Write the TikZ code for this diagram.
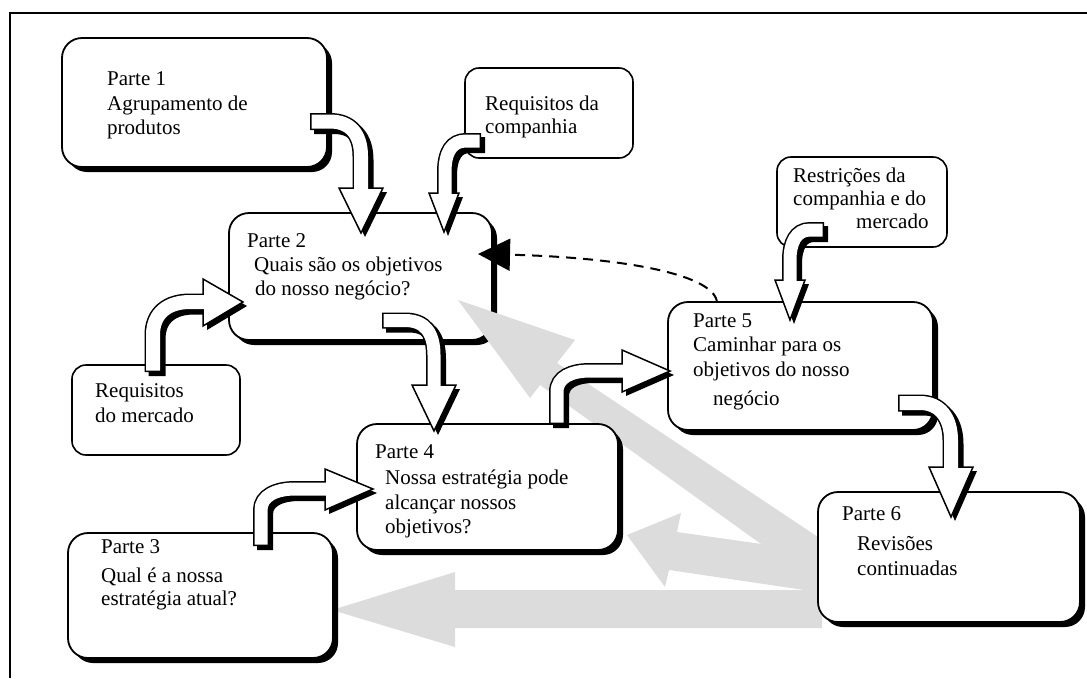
\documentclass[tikz,border=0pt]{standalone}
\usepackage{fontspec}
\setmainfont{Liberation Serif}
\usetikzlibrary{shadows,arrows.meta}
\definecolor{lgray}{RGB}{220,220,220}
\tikzset{
  partbox/.style={draw=black, line width=1.8pt, fill=white, rounded corners=20pt, inner sep=0pt,
    drop shadow={shadow xshift=5pt, shadow yshift=-5pt, opacity=1, fill=black}},
  smallbox/.style={draw=black, line width=1.6pt, fill=white, rounded corners=14pt, inner sep=0pt},
  txt/.style={anchor=base west, inner sep=0pt, font=\fontsize{21}{24}\selectfont},
  grayarrow/.style={fill=lgray, draw=none},
  dashlink/.style={line width=2pt, dash pattern=on 10pt off 7pt, -{Triangle[length=32pt,width=32pt]}},
}
\newcommand\blockarr[5]{%
  % #1 shaft path, #2 inner width, #3 head corner, #4 tip, #5 head corner
  \begin{scope}[shift={(4,4)}]
    \draw[black, line width=#2pt+3pt, shorten >=2pt] #1;
    \fill[black] #3 -- #4 -- #5 -- cycle;
  \end{scope}
  \draw[black, line width=#2pt+3pt, shorten >=2pt] #1;
  \filldraw[fill=white, draw=black, line width=1.5pt, line join=miter] #3 -- #4 -- #5 -- cycle;
  \draw[white, line width=#2pt, shorten <=1.5pt] #1;
}
\begin{document}
\begin{tikzpicture}[x=1pt, y=-1pt]
\useasboundingbox (0,0) rectangle (1087,678);
% frame
\draw[line width=2pt] (10,678) -- (10,13) -- (1087,13);

% boxes behind the grey arrows
\node[partbox, minimum width=265pt, minimum height=129pt] (p1) at (194.5,102.5) {};
\node[partbox, minimum width=263pt, minimum height=127pt] (p2) at (360.5,276.5) {};
\node[smallbox, minimum width=168pt, minimum height=90pt] (rc) at (549,113) {};
\node[smallbox, minimum width=170pt, minimum height=90pt] (rr) at (862,202) {};
\node[smallbox, minimum width=168pt, minimum height=90pt] (rm) at (156,410) {};

% grey feedback arrows
\fill[grayarrow] (458,300) -- (575,340) -- (557,363) -- (818,537) -- (818,585) -- (540,385) -- (530,398) -- cycle;
\fill[grayarrow] (627,535) -- (681,513) -- (677,532) -- (818,552) -- (818,592) -- (669,570) -- (665,587) -- cycle;
\fill[grayarrow] (332,610) -- (455,572) -- (455,590) -- (822,590) -- (822,628) -- (455,628) -- (455,647) -- cycle;

% boxes in front
\node[partbox, minimum width=265pt, minimum height=128pt] (p5) at (800.5,366) {};
\node[partbox, minimum width=261pt, minimum height=126pt] (p4) at (487.5,487) {};
\node[partbox, minimum width=265pt, minimum height=125pt] (p3) at (200.5,595.5) {};
\node[partbox, minimum width=262pt, minimum height=130pt] (p6) at (949,557) {};

% texts
\node[txt] (t1a) at (107,85) {Parte 1};
\node[txt] (t1b) at (107,110) {Agrupamento de};
\node[txt] (t1c) at (107,134) {produtos};
\node[txt] (t2a) at (247,247) {Parte 2};
\node[txt] (t2b) at (254,271) {Quais são os objetivos};
\node[txt] (t2c) at (255,295) {do nosso negócio?};
\node[txt] (tca) at (485,110) {Requisitos da};
\node[txt] (tcb) at (485,133) {companhia};
\node[txt] (tra) at (793,182) {Restrições da};
\node[txt] (trb) at (793,205) {companhia e do};
\node[txt] (trc) at (856,228) {mercado};
\node[txt] (tma) at (95,397) {Requisitos};
\node[txt] (tmb) at (95,422) {do mercado};
\node[txt] (t5a) at (693,327) {Parte 5};
\node[txt] (t5b) at (693,351) {Caminhar para os};
\node[txt] (t5c) at (693,376) {objetivos do nosso};
\node[txt] (t5d) at (713,405) {negócio};
\node[txt] (t4a) at (375,458) {Parte 4};
\node[txt] (t4b) at (385,484) {Nossa estratégia pode};
\node[txt] (t4c) at (385,509) {alcançar nossos};
\node[txt] (t4d) at (385,533) {objetivos?};
\node[txt] (t3a) at (101,553) {Parte 3};
\node[txt] (t3b) at (101,582) {Qual é a nossa};
\node[txt] (t3c) at (101,605) {estratégia atual?};
\node[txt] (t6a) at (842,520) {Parte 6};
\node[txt] (t6b) at (857,550) {Revisões};
\node[txt] (t6c) at (857,575) {continuadas};

% block arrows
% Parte 1 -> Parte 2
\blockarr{(310,121.5) -- (330,121.5) .. controls (350,121.5) and (361,134) .. (361,156) -- (361,190)}{14}{(339,188)}{(361,233)}{(383,188)}
% Requisitos da companhia -> Parte 2
\blockarr{(481,141) -- (466,141) .. controls (452,141) and (445,152) .. (445,172) -- (445,195)}{13}{(429,193)}{(444,232)}{(459,193)}
% Restricoes -> Parte 5
\blockarr{(824,230) -- (810,230) .. controls (796,230) and (790,243) .. (790,260) -- (790,282)}{13}{(775,280)}{(790,320)}{(805,280)}
% Requisitos do mercado -> Parte 2
\blockarr{(153,372) -- (153,335) .. controls (153,313) and (168,302) .. (190,302) -- (205,302)}{14}{(203,279)}{(243,302)}{(203,326)}
% Parte 2 -> Parte 4
\blockarr{(382,320.5) -- (405,320.5) .. controls (425,320.5) and (434,333) .. (434,355) -- (434,387)}{13}{(412,385)}{(434,431)}{(456,385)}
% Parte 4 -> Parte 5
\blockarr{(557,424) -- (557,392) .. controls (557,377) and (572,371) .. (590,371) -- (624,371)}{13}{(622,350)}{(670,371)}{(622,392)}
% Parte 3 -> Parte 4
\blockarr{(261,546) -- (261,510) .. controls (261,496) and (276,489) .. (295,489) -- (327,489)}{13}{(325,469)}{(373,489)}{(325,510)}
% Parte 5 -> Parte 6
\blockarr{(898,403) -- (920,403) .. controls (940,403) and (951,418) .. (951,440) -- (951,469)}{14}{(929,467)}{(951,517)}{(973,467)}

% dashed feedback link Parte 5 -> Parte 2
\coordinate (d5) at (717,302);
\coordinate (d2) at (478,254);
\draw[dashlink] (d5) .. controls (713,272) and (610,257) .. (d2);
\end{tikzpicture}
\end{document}
